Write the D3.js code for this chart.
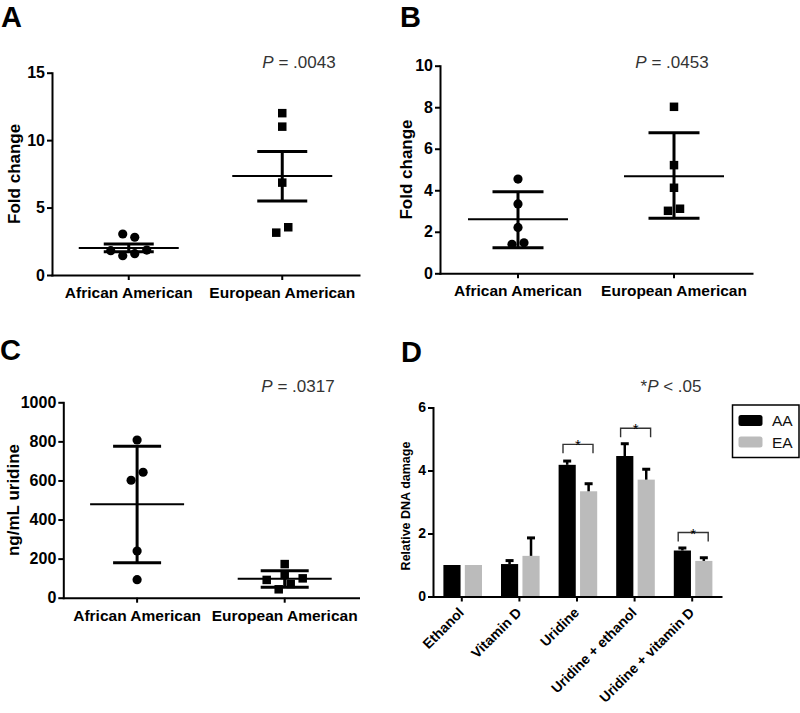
<!DOCTYPE html>
<html><head><meta charset="utf-8">
<script src="https://cdn.jsdelivr.net/npm/d3@7"></script>
<style>
body{margin:0;background:#fff}
svg{display:block}
text{font-family:"Liberation Sans",Arial,Helvetica,sans-serif}
</style>
</head><body>
<svg id="chart" width="800" height="713"></svg>
<script>
// ---------- DATA ----------
const groups = ["African American", "European American"];

// Panel A (fold change, mean ± SEM)
const aValuesAA = [3.04, 2.80, 1.80, 1.85, 1.43, 1.58];
const aSlotsAA  = [-0.5, 0.5, -1.5, 1.5, -0.5, 0.5];
const aValuesEA = [12.0, 11.0, 6.85, 3.14, 3.54];
const aSlotsEA  = [0, 0, 0, -0.5, 0.5];
const aMean = [2.0, 7.34];
const aLow  = [1.72, 5.49];
const aHigh = [2.29, 9.15];
const aTicks = [0, 5, 10, 15];

// Panel B (fold change, mean ± SD)
const bValuesAA = [4.54, 3.34, 2.21, 1.40, 1.47];
const bSlotsAA  = [0, 0, 0, -0.5, 0.5];
const bValuesEA = [8.02, 5.21, 4.12, 3.01, 3.11];
const bSlotsEA  = [0, 0, 0, -0.5, 0.5];
const bMean = [2.6, 4.68];
const bLow  = [1.23, 2.65];
const bHigh = [3.93, 6.77];
const bTicks = [0, 2, 4, 6, 8, 10];

// Panel C (ng/mL uridine, mean ± SD)
const cValuesAA = [807, 642, 601, 239, 92];
const cSlotsAA  = [0, 0.5, -0.5, 0, 0];
const cValuesEA = [172, 116, 91, 99, 70, 43];
const cSlotsEA  = [0, 0, -1.5, 1.5, 0.5, -0.5];
const cMean = [478, 97];
const cLow  = [179, 53];
const cHigh = [775, 138];
const cTicks = [0, 200, 400, 600, 800, 1000];

// Panel D (relative DNA damage)
const treatments = ["Ethanol", "Vitamin D", "Uridine", "Uridine + ethanol", "Uridine + vitamin D"];
const series = ["AA", "EA"];
const damageAA = [1.0, 1.03, 4.18, 4.46, 1.46];
const errAA    = [0, 0.11, 0.12, 0.39, 0.08];
const damageEA = [1.0, 1.29, 3.34, 3.71, 1.13];
const errEA    = [0, 0.57, 0.24, 0.33, 0.10];
const bracketAt = [null, null, 4.83, 5.34, 2.03];
const dTicks = [0, 2, 4, 6];

const FONT = '"Liberation Sans",Arial,Helvetica,sans-serif';
const svg = d3.select("#chart");
const fmt = d3.format("d");

function styleAxis(ax, fs) {
  ax.select(".domain").attr("stroke", "#000").attr("stroke-width", 2).attr("stroke-linecap", "square");
  ax.selectAll(".tick line").attr("stroke", "#000").attr("stroke-width", 2);
  ax.selectAll(".tick text").attr("fill", "#000").attr("font-size", fs).attr("font-weight", "bold").attr("font-family", FONT);
}

function pText(g, x, y, rest) {
  const t = g.append("text").attr("x", x).attr("y", y).attr("text-anchor", "middle")
    .attr("font-size", 17).attr("fill", "#333");
  t.append("tspan").attr("font-style", "italic").text("P");
  t.append("tspan").text(rest);
}

function scatterPanel(cfg) {
  const g = svg.append("g");
  const x = d3.scaleBand().domain(groups).range([cfg.left, cfg.right]);
  const y = d3.scaleLinear().domain([0, cfg.max]).range([cfg.bottom, cfg.top]);
  const cx = gname => x(gname) + x.bandwidth() / 2;

  const ya = g.append("g").attr("transform", `translate(${cfg.left},0)`)
    .call(d3.axisLeft(y).tickValues(cfg.ticks).tickFormat(fmt).tickSize(5).tickPadding(2).tickSizeOuter(0));
  styleAxis(ya, 16);
  const xa = g.append("g").attr("transform", `translate(0,${cfg.bottom})`)
    .call(d3.axisBottom(x).tickSize(5).tickPadding(5).tickSizeOuter(0));
  styleAxis(xa, 15.5);
  xa.selectAll(".tick text").attr("dy", "0.85em");

  // y label
  g.append("text").attr("transform", `translate(${cfg.labelX},${(cfg.top + cfg.bottom) / 2}) rotate(-90)`)
    .attr("text-anchor", "middle").attr("font-size", 17).attr("font-weight", "bold").text(cfg.yLabel);

  // panel letter
  g.append("text").attr("x", cfg.letterX).attr("y", cfg.letterY).attr("font-size", 29)
    .attr("font-weight", "bold").text(cfg.letter);

  pText(g, cfg.pX, cfg.pY, cfg.pRest);

  // summary lines
  groups.forEach((gn, i) => {
    const c = cx(gn);
    g.append("line").attr("x1", c - cfg.meanHalf).attr("x2", c + cfg.meanHalf)
      .attr("y1", y(cfg.mean[i])).attr("y2", y(cfg.mean[i])).attr("stroke", "#000").attr("stroke-width", 2);
    g.append("line").attr("x1", c).attr("x2", c)
      .attr("y1", y(cfg.low[i])).attr("y2", y(cfg.high[i])).attr("stroke", "#000").attr("stroke-width", 3);
    [cfg.low[i], cfg.high[i]].forEach(v => {
      g.append("line").attr("x1", c - cfg.capHalf).attr("x2", c + cfg.capHalf)
        .attr("y1", y(v)).attr("y2", y(v)).attr("stroke", "#000").attr("stroke-width", 3);
    });
  });

  // points
  const spacing = 12;
  g.selectAll("circle.pt").data(cfg.valsAA).enter().append("circle")
    .attr("cx", (d, i) => cx(groups[0]) + cfg.slotsAA[i] * spacing)
    .attr("cy", d => y(d)).attr("r", 4.6).attr("fill", "#000");
  const s = 8.5;
  g.selectAll("rect.pt").data(cfg.valsEA).enter().append("rect")
    .attr("x", (d, i) => cx(groups[1]) + cfg.slotsEA[i] * spacing - s / 2)
    .attr("y", d => y(d) - s / 2).attr("width", s).attr("height", s).attr("fill", "#000");
}

scatterPanel({
  left: 52, right: 359, top: 72.7, bottom: 275, max: 15, ticks: aTicks,
  yLabel: "Fold change", labelX: 20, letter: "A", letterX: 1, letterY: 27,
  pX: 299, pY: 67.5, pRest: " = .0043",
  mean: aMean, low: aLow, high: aHigh, meanHalf: 50, capHalf: 25,
  valsAA: aValuesAA, slotsAA: aSlotsAA, valsEA: aValuesEA, slotsEA: aSlotsEA
});

scatterPanel({
  left: 440, right: 752, top: 65.7, bottom: 273.3, max: 10, ticks: bTicks,
  yLabel: "Fold change", labelX: 412, letter: "B", letterX: 400, letterY: 27,
  pX: 672, pY: 67.5, pRest: " = .0453",
  mean: bMean, low: bLow, high: bHigh, meanHalf: 50, capHalf: 25.5,
  valsAA: bValuesAA, slotsAA: bSlotsAA, valsEA: bValuesEA, slotsEA: bSlotsEA
});

scatterPanel({
  left: 63.3, right: 358.5, top: 402.3, bottom: 597.7, max: 1000, ticks: cTicks,
  yLabel: "ng/mL uridine", labelX: 19, letter: "C", letterX: 0, letterY: 360,
  pX: 298, pY: 392, pRest: " = .0317",
  mean: cMean, low: cLow, high: cHigh, meanHalf: 47, capHalf: 24,
  valsAA: cValuesAA, slotsAA: cSlotsAA, valsEA: cValuesEA, slotsEA: cSlotsEA
});

// ---------- Panel D ----------
(function () {
  const g = svg.append("g");
  const left = 433, right = 721, top = 407.5, bottom = 596.5;
  const x0 = d3.scaleBand().domain(treatments).range([left, right]);
  const x1 = d3.scaleBand().domain(series).range([10.4, x0.bandwidth() - 8.6]).paddingInner(0.2);
  const y = d3.scaleLinear().domain([0, 6]).range([bottom, top]);
  const color = d3.scaleOrdinal().domain(series).range(["#000000", "#bbbbbb"]);
  const vals = { AA: damageAA, EA: damageEA };
  const errs = { AA: errAA, EA: errEA };

  treatments.forEach((t, i) => {
    series.forEach(s => {
      const bx = x0(t) + x1(s);
      const v = vals[s][i];
      g.append("rect").attr("x", bx).attr("y", y(v)).attr("width", x1.bandwidth())
        .attr("height", y(0) - y(v)).attr("fill", color(s));
      if (errs[s][i] > 0) {
        const mx = bx + x1.bandwidth() / 2;
        const top = y(v + errs[s][i]);
        g.append("line").attr("x1", mx).attr("x2", mx).attr("y1", y(v)).attr("y2", top)
          .attr("stroke", "#000").attr("stroke-width", 2.5);
        g.append("line").attr("x1", mx - 4).attr("x2", mx + 4).attr("y1", top).attr("y2", top)
          .attr("stroke", "#000").attr("stroke-width", 3);
      }
    });
    if (bracketAt[i] !== null) {
      const c = x0(t) + x0.bandwidth() / 2;
      const by = y(bracketAt[i]);
      g.append("path").attr("d", `M${c - 14},${by + 9}V${by}H${c + 16}V${by + 9}`)
        .attr("fill", "none").attr("stroke", "#333").attr("stroke-width", 1.4);
      g.append("text").attr("x", c + 1).attr("y", by + 6).attr("text-anchor", "middle")
        .attr("font-size", 15).attr("fill", "#000").text("*");
    }
  });

  const ya = g.append("g").attr("transform", `translate(${left},0)`)
    .call(d3.axisLeft(y).tickValues(dTicks).tickFormat(fmt).tickSize(5).tickPadding(2).tickSizeOuter(0));
  styleAxis(ya, 14);
  const xa = g.append("g").attr("transform", `translate(0,${bottom})`)
    .call(d3.axisBottom(x0).tickSize(5).tickSizeOuter(0));
  styleAxis(xa, 14);
  xa.selectAll(".tick text")
    .attr("text-anchor", "end").attr("x", 0).attr("y", 0).attr("dy", 0)
    .attr("transform", "translate(3,17) rotate(-45)");

  g.append("text").attr("transform", `translate(410,${(top + bottom) / 2 + 4}) rotate(-90)`)
    .attr("text-anchor", "middle").attr("font-size", 12.5).attr("font-weight", "bold").text("Relative DNA damage");

  g.append("text").attr("x", 401).attr("y", 362).attr("font-size", 29).attr("font-weight", "bold").text("D");

  const t = g.append("text").attr("x", 671).attr("y", 392).attr("text-anchor", "middle")
    .attr("font-size", 17).attr("fill", "#333");
  t.append("tspan").text("*");
  t.append("tspan").attr("font-style", "italic").text("P");
  t.append("tspan").text(" < .05");

  // legend
  const lg = g.append("g");
  lg.append("rect").attr("x", 732.5).attr("y", 405).attr("width", 66.5).attr("height", 52.5)
    .attr("fill", "#fff").attr("stroke", "#000").attr("stroke-width", 1.5);
  series.forEach((s, i) => {
    lg.append("rect").attr("x", 738.5).attr("y", 415 + i * 21.5).attr("width", 24).attr("height", 11)
      .attr("rx", 2.5).attr("fill", color(s));
    lg.append("text").attr("x", 772).attr("y", 426 + i * 21.5).attr("font-size", 15.5).attr("fill", "#111").text(s);
  });
})();
</script>
</body></html>
